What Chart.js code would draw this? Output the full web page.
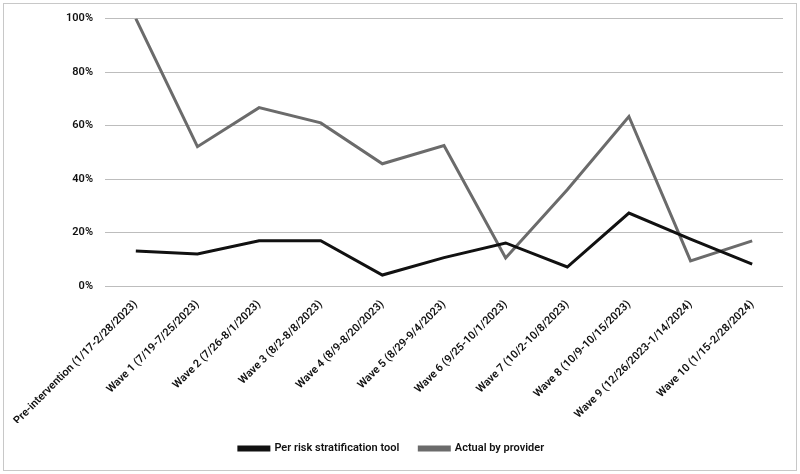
<!DOCTYPE html>
<html>
<head>
<meta charset="utf-8">
<script src="https://cdn.jsdelivr.net/npm/chart.js@4"></script>
<style>
  html, body { margin: 0; padding: 0; background: #fff; }
  #wrap { position: relative; width: 800px; height: 474px; }
</style>
</head>
<body>
<div id="wrap"><canvas id="c" width="800" height="474"></canvas></div>
<script>
const categories = [
  "Pre-intervention (1/17-2/28/2023)",
  "Wave 1 (7/19-7/25/2023)",
  "Wave 2 (7/26-8/1/2023)",
  "Wave 3 (8/2-8/8/2023)",
  "Wave 4 (8/9-8/20/2023)",
  "Wave 5 (8/29-9/4/2023)",
  "Wave 6 (9/25-10/1/2023)",
  "Wave 7 (10/2-10/8/2023)",
  "Wave 8 (10/9-10/15/2023)",
  "Wave 9 (12/26/2023-1/14/2024)",
  "Wave 10 (1/15-2/28/2024)"
];
const perRiskTool = [13.1, 12.0, 16.9, 16.9, 4.1, 10.6, 16.1, 7.1, 27.3, 17.5, 8.2];
const actualByProvider = [100, 52.1, 66.7, 61.0, 45.7, 52.5, 10.5, 36.0, 63.4, 9.4, 16.9];
const seriesNames = ["Per risk stratification tool", "Actual by provider"];
const yTicks = [0, 20, 40, 60, 80, 100];

const borderPlugin = {
  id: 'frame',
  beforeDraw(chart) {
    const ctx = chart.ctx;
    ctx.save();
    ctx.fillStyle = '#fff';
    ctx.fillRect(0, 0, chart.width, chart.height);
    ctx.strokeStyle = '#c8c8c8';
    ctx.lineWidth = 1;
    ctx.strokeRect(3.5, 3.5, 793, 467);
    ctx.restore();
  }
};

const fontFamily = "Roboto, 'Liberation Sans', sans-serif";

new Chart(document.getElementById('c'), {
  type: 'line',
  data: {
    labels: categories,
    datasets: [
      {
        label: seriesNames[0],
        data: perRiskTool,
        borderColor: '#111111',
        backgroundColor: '#111111',
        borderWidth: 3,
        pointRadius: 0,
        tension: 0,
        fill: false
      },
      {
        label: seriesNames[1],
        data: actualByProvider,
        borderColor: '#6b6b6b',
        backgroundColor: '#6b6b6b',
        borderWidth: 3,
        pointRadius: 0,
        tension: 0,
        fill: false
      }
    ]
  },
  options: {
    responsive: false,
    animation: false,
    devicePixelRatio: 1,
    layout: { padding: { top: 18, right: 17, bottom: 10, left: 0 } },
    plugins: {
      legend: {
        position: 'bottom',
        labels: {
          boxWidth: 30,
          boxHeight: 3,
          padding: 20,
          color: '#111',
          font: { family: fontFamily, size: 11, weight: '600' }
        }
      },
      tooltip: { enabled: false }
    },
    scales: {
      x: {
        offset: true,
        grid: { display: false },
        border: { display: false },
        afterFit(scale) { scale.height = 137; },
        ticks: {
          autoSkip: false,
          maxRotation: 45,
          minRotation: 45,
          padding: 4,
          color: '#111',
          font: { family: fontFamily, size: 11, weight: '600' }
        }
      },
      y: {
        min: 0,
        max: 100,
        afterFit(scale) { scale.width = 105; },
        afterBuildTicks(scale) { scale.ticks = yTicks.map(v => ({ value: v })); },
        grid: { color: '#bdbdbd', lineWidth: 1, drawTicks: false },
        border: { display: false },
        ticks: {
          padding: 12,
          color: '#111',
          font: { family: fontFamily, size: 11, weight: '600' },
          callback: v => v + '%'
        }
      }
    }
  },
  plugins: [borderPlugin]
});
</script>
</body>
</html>
